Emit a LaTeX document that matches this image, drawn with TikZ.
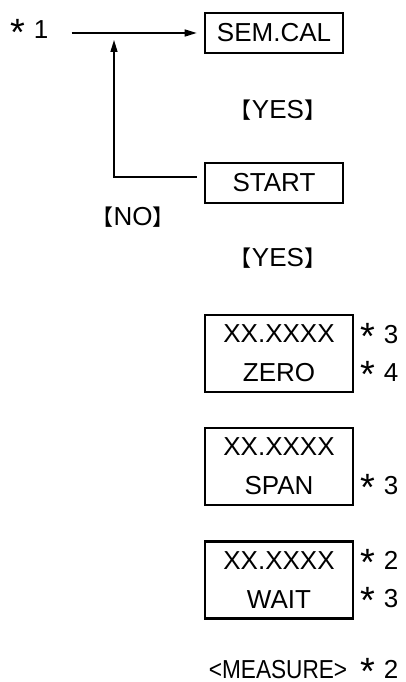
\documentclass[tikz,border=0pt]{standalone}
\usepackage{fontspec}
\setmainfont{Liberation Sans}
\newfontfamily\cjk{Noto Sans CJK JP}
\newfontfamily\narrowsf[FakeStretch=0.87]{Liberation Sans}
\usetikzlibrary{arrows.meta, positioning}
\newcommand{\noteast}{\raisebox{-6.5pt}{\fontsize{38}{38}\selectfont *}\hspace{9pt}}
\newcommand{\lbr}{{\cjk\fontsize{22}{22}\selectfont 【}}
\newcommand{\rbr}{{\cjk\fontsize{22}{22}\selectfont 】}}

\begin{document}
\begin{tikzpicture}[x=1pt, y=-1pt,
    base/.style={font=\fontsize{26}{39}\selectfont, inner sep=0pt},
    disp/.style={base, draw=black, line width=2.6pt, minimum width=138pt, minimum height=40pt},
    disptwo/.style={base, draw=black, line width=2.6pt, minimum width=148pt, minimum height=77pt, align=center},
    note/.style={base, anchor=base west},
    key/.style={base},
    line/.style={-{Triangle[length=12pt, width=7pt]}, line width=1.4pt, draw=black}]
  \useasboundingbox (0,0) rectangle (406,682);

  % Calibration start
  \node[note] (one) at (10,39) {\noteast 1};
  \node[disp] (sem) at (274,33) {SEM.CAL};
  \node[key]  (yesa) at (278,110) {\lbr YES\rbr};
  \node[disp] (start) at (274,183) {START};
  \node[key]  (no) at (133,217) {\lbr NO\rbr};
  \node[key]  (yesb) at (278,258) {\lbr YES\rbr};
  \coordinate (turn) at (114,177);
  \coordinate (up) at (114,40);
  \draw[line, shorten >=7pt] ([xshift=23pt]one.east |- sem.west) -- (sem.west);
  \draw[line, shorten <=7pt] (start.west |- turn) -- (turn) -- (up);

  % Zero, span, wait displays
  \node[disptwo] (zero) at (279,353.5) {XX.XXXX\\ZERO};
  \node[note] (zeroa) at (360,343) {\noteast 3};
  \node[note] (zerob) at (360,381) {\noteast 4};
  \node[disptwo] (span) at (279,466.5) {XX.XXXX\\SPAN};
  \node[note] (spana) at (360,494) {\noteast 3};
  \node[disptwo] (wait) at (279,580) {XX.XXXX\\WAIT};
  \node[note] (waita) at (360,569) {\noteast 2};
  \node[note] (waitb) at (360,607) {\noteast 3};

  % Measure
  \node[base, anchor=base, font=\fontsize{26}{30}\selectfont\narrowsf] (meas) at (278,678) {<MEASURE>};
  \node[note] (measa) at (360,678) {\noteast 2};
\end{tikzpicture}
\end{document}
